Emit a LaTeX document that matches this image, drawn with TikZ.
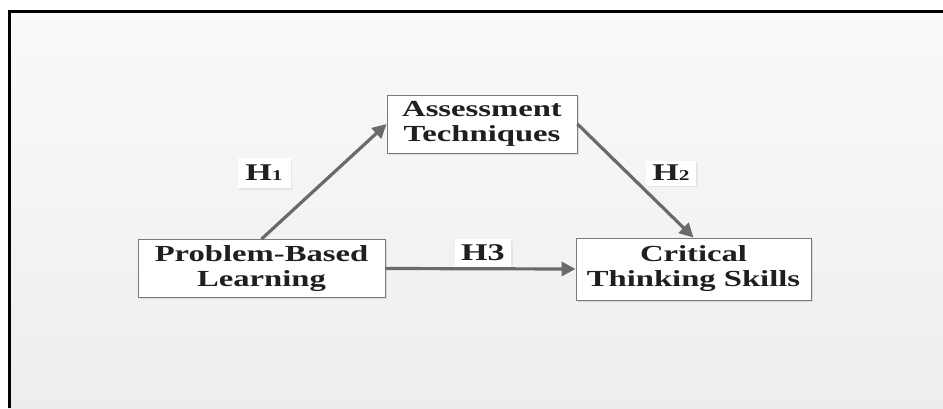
\documentclass[tikz,border=0pt]{standalone}
\usepackage{fontspec}
\setmainfont[FakeStretch=1.42]{Liberation Serif}
\usetikzlibrary{arrows.meta,shadows}
\definecolor{arrowgray}{HTML}{6A6A6A}
\definecolor{boxgray}{HTML}{7A7A7A}

\begin{document}
\begin{tikzpicture}[x=1pt,y=-1pt,
varbox/.style={rectangle, draw=boxgray, fill=white, line width=0.9pt, align=center, inner sep=0pt, text=black!88, font=\fontsize{23}{25}\selectfont\bfseries, drop shadow={opacity=0.2, shadow xshift=1.5pt, shadow yshift=-1.5pt}},
hyplabel/.style={rectangle, fill=white, inner sep=0pt, minimum height=30pt, text=black!88, font=\fontsize{24}{25}\selectfont\bfseries, drop shadow={opacity=0.12, shadow xshift=1.5pt, shadow yshift=-1.5pt}},
path/.style={draw=arrowgray, line width=3.2pt, -{Triangle[length=14pt,width=14pt]}}
]
    % page and frame
    \useasboundingbox (0,0) rectangle (943,408);
    \fill[white] (0,0) rectangle (943,408);
    \shade[top color=black!2, bottom color=black!7] (8,10) rectangle (943,408);
    \draw[black, line width=2.5pt] (9.25,408) -- (9.25,11.25) -- (943,11.25);

    \node [varbox, minimum width=247pt, minimum height=58pt] (pbl) at (261.5,268.5) {Problem-Based\\Learning};
    \node [varbox, minimum width=190pt, minimum height=58pt] (at) at (482,124) {Assessment\\Techniques};
    \node [varbox, minimum width=235pt, minimum height=62pt] (cts) at (693.5,269) {Critical\\Thinking Skills};

    \node [hyplabel, minimum width=53pt] (h1) at (264,173) {H{\fontsize{15}{15}\selectfont 1}};
    \node [hyplabel, minimum width=50pt, minimum height=25pt] (h2) at (671,173) {H{\fontsize{15}{15}\selectfont 2}};
    \node [hyplabel, minimum width=56pt, minimum height=28pt] (h3) at (483,253) {H3};

    \draw [path] (pbl.north) -- (at.west);
    \draw [path] (at.east) -- (cts.north);
    \draw [path] (pbl.east) -- (cts.west);
\end{tikzpicture}
\end{document}
